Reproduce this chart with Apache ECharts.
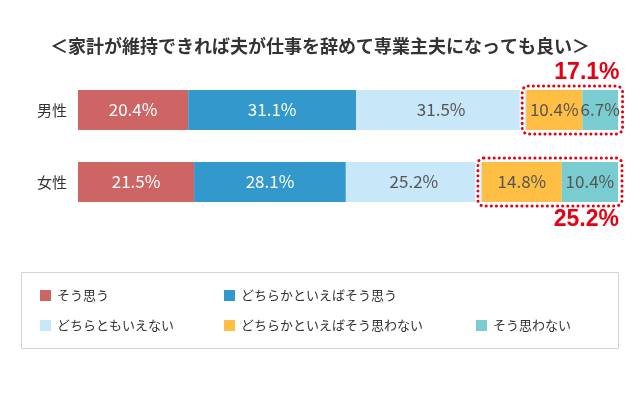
<!DOCTYPE html>
<html>
<head>
<meta charset="utf-8">
<script src="https://cdn.jsdelivr.net/npm/echarts@6/dist/echarts.min.js"></script>
<style>
  html, body { margin: 0; padding: 0; background: #fff; }
  #chart { width: 640px; height: 398px; }
</style>
</head>
<body>
<div id="chart"></div>
<script>
const categories = ['男性', '女性'];
const seriesNames = ['そう思う', 'どちらかといえばそう思う', 'どちらともいえない', 'どちらかといえばそう思わない', 'そう思わない'];
const agree = [20.4, 21.5];
const ratherAgree = [31.1, 28.1];
const neutral = [31.5, 25.2];
const ratherDisagree = [10.4, 14.8];
const disagree = [6.7, 10.4];
const disagreeTotals = ['17.1%', '25.2%'];

const colors = ['#cd6565', '#3399cc', '#c8e7f9', '#ffbe44', '#79cccf'];
const font = '"Noto Sans CJK JP", "Noto Sans", sans-serif';

const values = [agree, ratherAgree, neutral, ratherDisagree, disagree];

// legend positions, one legend per item so the columns line up like the original
const legendPos = [[40, 289], [224, 289], [40, 319], [224, 319], [476, 319]];

const chart = echarts.init(document.getElementById('chart'));

const option = {
    animation: false,
    title: {
        text: '＜家計が維持できれば夫が仕事を辞めて専業主夫になっても良い＞',
        left: 'center',
        top: 32,
        textStyle: { fontFamily: font, fontSize: 18, fontWeight: 'bold', color: '#333' }
    },
    legend: seriesNames.map((name, i) => ({
        data: [name],
        left: legendPos[i][0],
        top: legendPos[i][1],
        icon: 'rect',
        itemWidth: 11,
        itemHeight: 11,
        itemGap: 0,
        selectedMode: false,
        textStyle: { fontFamily: font, fontSize: 13, color: '#333', padding: [0, 0, 0, 1] },
        padding: 0
    })),
    grid: { left: 78, right: 22, top: 74, height: 144 },
    xAxis: {
        type: 'value',
        min: 0,
        max: 100,
        show: false
    },
    yAxis: {
        type: 'category',
        data: categories,
        inverse: true,
        axisLine: { show: false },
        axisTick: { show: false },
        axisLabel: { fontFamily: font, fontSize: 15, color: '#333', margin: 11 }
    },
    series: seriesNames.map((name, i) => ({
        name: name,
        type: 'bar',
        stack: 'total',
        barWidth: 40,
        data: values[i],
        itemStyle: { color: colors[i] },
        label: {
            show: true,
            position: 'inside',
            formatter: p => p.value.toFixed(1) + '%',
            fontFamily: font,
            fontSize: 17,
            color: i < 2 ? '#fff' : '#555'
        }
    }))
};
chart.setOption(option);

// dotted boxes around the last two segments, positioned from the axes
const graphics = [];
categories.forEach((cat, i) => {
    const start = agree[i] + ratherAgree[i] + neutral[i];
    const end = start + ratherDisagree[i] + disagree[i];
    const p0 = chart.convertToPixel({ gridIndex: 0 }, [start, cat]);
    const p1 = chart.convertToPixel({ gridIndex: 0 }, [end, cat]);
    const x = p0[0] - 4;
    const w = Math.max(p1[0], 618) - p0[0] + 8;
    const y = p0[1] - 24;
    const h = 48;
    const shape = { x: x, y: y, width: w, height: h, r: 6 };
    graphics.push({
        type: 'rect', z: 100, shape: shape,
        style: { fill: 'none', stroke: '#fff', lineWidth: 5 }
    });
    graphics.push({
        type: 'rect', z: 101, shape: shape,
        style: { fill: 'none', stroke: '#e60012', lineWidth: 3, lineDash: [0.1, 5], lineCap: 'round' }
    });
    graphics.push({
        type: 'text', z: 102,
        x: x + w - 3,
        y: i == 0 ? y - 13 : y + h + 14,
        style: {
            text: disagreeTotals[i],
            fill: '#e60012',
            font: 'bold 23px "Liberation Sans", sans-serif',
            align: 'right',
            verticalAlign: 'middle'
        }
    });
});

// legend frame
graphics.push({
    type: 'rect', z: -1,
    shape: { x: 21.5, y: 272.5, width: 597, height: 76 },
    style: { fill: '#fff', stroke: '#d3d3d3', lineWidth: 1 }
});

chart.setOption({ graphic: graphics });
</script>
</body>
</html>
